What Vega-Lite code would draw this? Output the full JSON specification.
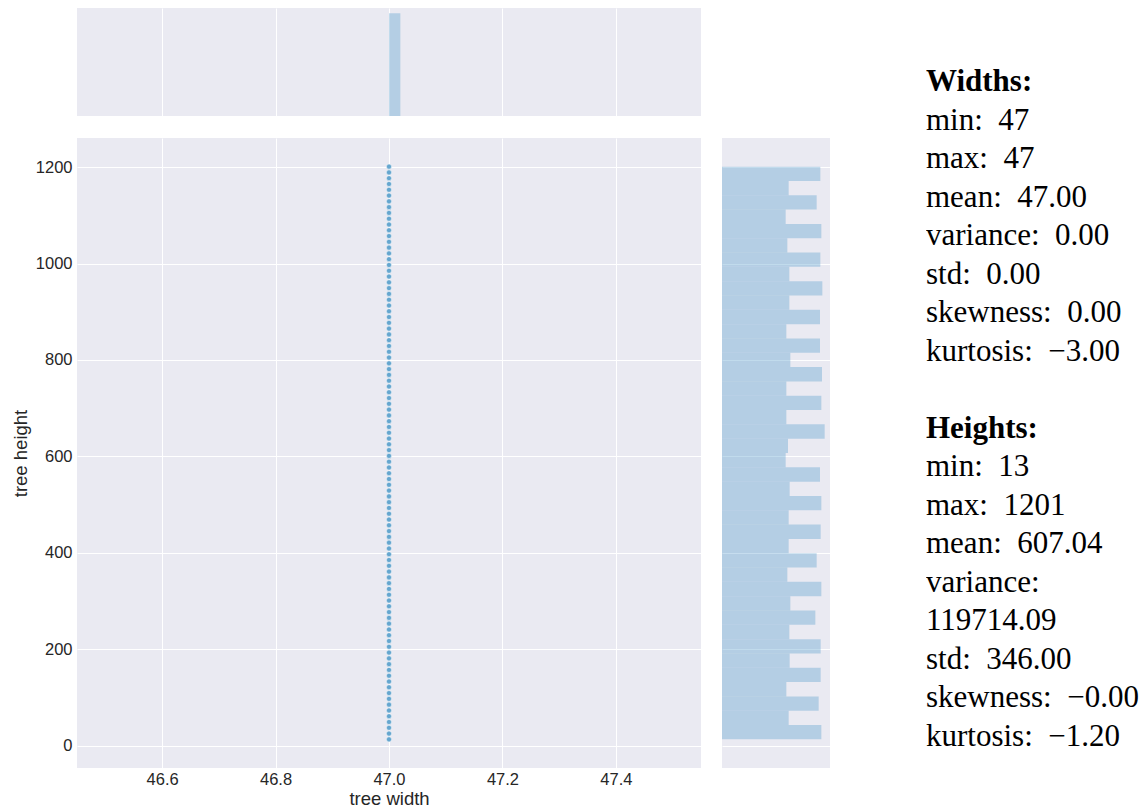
{
  "$schema": "https://vega.github.io/schema/vega-lite/v6.json",
  "padding": {"left": 11, "top": 8, "right": 0, "bottom": 0},
  "autosize": {"type": "pad"},
  "background": "white",
  "datasets": {
    "points": [
      {"width": 47, "height": 13}, {"width": 47, "height": 25}, {"width": 47, "height": 37}, {"width": 47, "height": 49}, {"width": 47, "height": 61},
      {"width": 47, "height": 73}, {"width": 47, "height": 85}, {"width": 47, "height": 97}, {"width": 47, "height": 109}, {"width": 47, "height": 121},
      {"width": 47, "height": 133}, {"width": 47, "height": 145}, {"width": 47, "height": 157}, {"width": 47, "height": 169}, {"width": 47, "height": 181},
      {"width": 47, "height": 193}, {"width": 47, "height": 205}, {"width": 47, "height": 217}, {"width": 47, "height": 229}, {"width": 47, "height": 241},
      {"width": 47, "height": 253}, {"width": 47, "height": 265}, {"width": 47, "height": 277}, {"width": 47, "height": 289}, {"width": 47, "height": 301},
      {"width": 47, "height": 313}, {"width": 47, "height": 325}, {"width": 47, "height": 337}, {"width": 47, "height": 349}, {"width": 47, "height": 361},
      {"width": 47, "height": 373}, {"width": 47, "height": 385}, {"width": 47, "height": 397}, {"width": 47, "height": 409}, {"width": 47, "height": 421},
      {"width": 47, "height": 433}, {"width": 47, "height": 445}, {"width": 47, "height": 457}, {"width": 47, "height": 469}, {"width": 47, "height": 481},
      {"width": 47, "height": 493}, {"width": 47, "height": 505}, {"width": 47, "height": 517}, {"width": 47, "height": 529}, {"width": 47, "height": 541},
      {"width": 47, "height": 553}, {"width": 47, "height": 565}, {"width": 47, "height": 577}, {"width": 47, "height": 589}, {"width": 47, "height": 601},
      {"width": 47, "height": 613}, {"width": 47, "height": 625}, {"width": 47, "height": 637}, {"width": 47, "height": 649}, {"width": 47, "height": 661},
      {"width": 47, "height": 673}, {"width": 47, "height": 685}, {"width": 47, "height": 697}, {"width": 47, "height": 709}, {"width": 47, "height": 721},
      {"width": 47, "height": 733}, {"width": 47, "height": 745}, {"width": 47, "height": 757}, {"width": 47, "height": 769}, {"width": 47, "height": 781},
      {"width": 47, "height": 793}, {"width": 47, "height": 805}, {"width": 47, "height": 817}, {"width": 47, "height": 829}, {"width": 47, "height": 841},
      {"width": 47, "height": 853}, {"width": 47, "height": 865}, {"width": 47, "height": 877}, {"width": 47, "height": 889}, {"width": 47, "height": 901},
      {"width": 47, "height": 913}, {"width": 47, "height": 925}, {"width": 47, "height": 937}, {"width": 47, "height": 949}, {"width": 47, "height": 961},
      {"width": 47, "height": 973}, {"width": 47, "height": 985}, {"width": 47, "height": 997}, {"width": 47, "height": 1009}, {"width": 47, "height": 1021},
      {"width": 47, "height": 1033}, {"width": 47, "height": 1045}, {"width": 47, "height": 1057}, {"width": 47, "height": 1069}, {"width": 47, "height": 1081},
      {"width": 47, "height": 1093}, {"width": 47, "height": 1105}, {"width": 47, "height": 1117}, {"width": 47, "height": 1129}, {"width": 47, "height": 1141},
      {"width": 47, "height": 1153}, {"width": 47, "height": 1165}, {"width": 47, "height": 1177}, {"width": 47, "height": 1189}, {"width": 47, "height": 1201}
    ],
    "widthHist": [
      {"x0": 47.0, "x1": 47.02, "count": 100}
    ],
    "heightHist": [
      {"y0": 13.0, "y1": 42.7, "count": 2.98},
      {"y0": 42.7, "y1": 72.4, "count": 2.00},
      {"y0": 72.4, "y1": 102.1, "count": 2.90},
      {"y0": 102.1, "y1": 131.8, "count": 1.93},
      {"y0": 131.8, "y1": 161.5, "count": 2.96},
      {"y0": 161.5, "y1": 191.2, "count": 2.03},
      {"y0": 191.2, "y1": 220.9, "count": 2.96},
      {"y0": 220.9, "y1": 250.6, "count": 2.02},
      {"y0": 250.6, "y1": 280.3, "count": 2.80},
      {"y0": 280.3, "y1": 310.0, "count": 2.05},
      {"y0": 310.0, "y1": 339.7, "count": 2.98},
      {"y0": 339.7, "y1": 369.4, "count": 1.96},
      {"y0": 369.4, "y1": 399.1, "count": 2.84},
      {"y0": 399.1, "y1": 428.8, "count": 2.00},
      {"y0": 428.8, "y1": 458.5, "count": 2.96},
      {"y0": 458.5, "y1": 488.2, "count": 2.00},
      {"y0": 488.2, "y1": 517.9, "count": 2.98},
      {"y0": 517.9, "y1": 547.6, "count": 2.03},
      {"y0": 547.6, "y1": 577.3, "count": 2.94},
      {"y0": 577.3, "y1": 607.0, "count": 1.91},
      {"y0": 607.0, "y1": 636.7, "count": 1.98},
      {"y0": 636.7, "y1": 666.4, "count": 3.08},
      {"y0": 666.4, "y1": 696.1, "count": 1.93},
      {"y0": 696.1, "y1": 725.8, "count": 2.98},
      {"y0": 725.8, "y1": 755.5, "count": 1.93},
      {"y0": 755.5, "y1": 785.2, "count": 3.00},
      {"y0": 785.2, "y1": 814.9, "count": 2.05},
      {"y0": 814.9, "y1": 844.6, "count": 2.94},
      {"y0": 844.6, "y1": 874.3, "count": 1.93},
      {"y0": 874.3, "y1": 904.0, "count": 2.94},
      {"y0": 904.0, "y1": 933.7, "count": 2.02},
      {"y0": 933.7, "y1": 963.4, "count": 3.01},
      {"y0": 963.4, "y1": 993.1, "count": 2.02},
      {"y0": 993.1, "y1": 1022.8, "count": 2.95},
      {"y0": 1022.8, "y1": 1052.5, "count": 1.96},
      {"y0": 1052.5, "y1": 1082.2, "count": 2.98},
      {"y0": 1082.2, "y1": 1111.9, "count": 1.91},
      {"y0": 1111.9, "y1": 1141.6, "count": 2.84},
      {"y0": 1141.6, "y1": 1171.3, "count": 2.00},
      {"y0": 1171.3, "y1": 1201.0, "count": 2.95}
    ],
    "stats": [
      {"line": 0, "label": "Widths:", "bold": true},
      {"line": 1, "label": "min: \u00a047", "bold": false},
      {"line": 2, "label": "max: \u00a047", "bold": false},
      {"line": 3, "label": "mean: \u00a047.00", "bold": false},
      {"line": 4, "label": "variance: \u00a00.00", "bold": false},
      {"line": 5, "label": "std: \u00a00.00", "bold": false},
      {"line": 6, "label": "skewness: \u00a00.00", "bold": false},
      {"line": 7, "label": "kurtosis: \u00a0\u22123.00", "bold": false},
      {"line": 9, "label": "Heights:", "bold": true},
      {"line": 10, "label": "min: \u00a013", "bold": false},
      {"line": 11, "label": "max: \u00a01201", "bold": false},
      {"line": 12, "label": "mean: \u00a0607.04", "bold": false},
      {"line": 13, "label": "variance:", "bold": false},
      {"line": 14, "label": "119714.09", "bold": false},
      {"line": 15, "label": "std: \u00a0346.00", "bold": false},
      {"line": 16, "label": "skewness: \u00a0\u22120.00", "bold": false},
      {"line": 17, "label": "kurtosis: \u00a0\u22121.20", "bold": false}
    ]
  },
  "hconcat": [
    {
      "concat": [
        {
          "width": 624,
          "height": 108,
          "data": {"name": "widthHist"},
          "mark": {"type": "rect", "color": "#65A6CF", "opacity": 0.4},
          "encoding": {
            "x": {"field": "x0", "type": "quantitative", "scale": {"domain": [46.45, 47.55], "nice": false, "zero": false},
                  "axis": {"values": [46.6, 46.8, 47.0, 47.2, 47.4], "labels": false, "title": null, "grid": true}},
            "x2": {"field": "x1"},
            "y": {"field": "count", "type": "quantitative", "scale": {"domain": [0, 105], "nice": false}, "axis": null},
            "y2": {"datum": 0}
          }
        },
        {
          "width": 108,
          "height": 108,
          "data": {"values": []},
          "mark": "point",
          "view": {"fill": null, "stroke": null}
        },
        {
          "width": 624,
          "height": 630,
          "data": {"name": "points"},
          "mark": {"type": "point", "filled": true, "fill": "#65A6CF", "opacity": 1, "size": 26, "stroke": "white", "strokeWidth": 0.5},
          "encoding": {
            "x": {"field": "width", "type": "quantitative", "scale": {"domain": [46.45, 47.55], "nice": false, "zero": false},
                  "axis": {"values": [46.6, 46.8, 47.0, 47.2, 47.4], "format": ".1f", "title": "tree width", "grid": true, "labelPadding": 3, "titlePadding": 2}},
            "y": {"field": "height", "type": "quantitative", "scale": {"domain": [-46.4, 1260.4], "nice": false, "zero": false},
                  "axis": {"values": [0, 200, 400, 600, 800, 1000, 1200], "format": "d", "title": "tree height", "grid": true}}
          }
        },
        {
          "width": 108,
          "height": 630,
          "data": {"name": "heightHist"},
          "mark": {"type": "rect", "color": "#65A6CF", "opacity": 0.4},
          "encoding": {
            "y": {"field": "y0", "type": "quantitative", "scale": {"domain": [-46.4, 1260.4], "nice": false, "zero": false},
                  "axis": {"values": [0, 200, 400, 600, 800, 1000, 1200], "labels": false, "title": null, "grid": true}},
            "y2": {"field": "y1"},
            "x": {"field": "count", "type": "quantitative", "scale": {"domain": [0, 3.24], "nice": false}, "axis": null},
            "x2": {"datum": 0}
          }
        }
      ],
      "columns": 2,
      "spacing": {"row": 22, "column": 21},
      "bounds": "flush"
    },
    {
      "width": 216,
      "height": 760,
      "view": {"fill": null, "stroke": null},
      "data": {"name": "stats"},
      "encoding": {
        "x": {"value": 0},
        "y": {"field": "line", "type": "quantitative", "scale": {"domain": [-2.156, 17.584], "reverse": true, "nice": false, "zero": false}, "axis": null},
        "text": {"field": "label"}
      },
      "layer": [
        {
          "transform": [{"filter": "datum.bold"}],
          "mark": {"type": "text", "align": "left", "baseline": "alphabetic", "font": "Liberation Serif", "fontSize": 31, "fontWeight": "bold", "color": "black", "clip": true}
        },
        {
          "transform": [{"filter": "!datum.bold"}],
          "mark": {"type": "text", "align": "left", "baseline": "alphabetic", "font": "Liberation Serif", "fontSize": 31, "color": "black", "clip": true}
        }
      ]
    }
  ],
  "spacing": 96,
  "config": {
    "view": {"fill": "#EAEAF2", "stroke": null},
    "axis": {
      "domain": false,
      "ticks": false,
      "gridColor": "white",
      "gridWidth": 1,
      "gridOpacity": 1,
      "labelFont": "Liberation Sans",
      "labelFontSize": 16.5,
      "labelColor": "#262626",
      "labelPadding": 5,
      "titleFont": "Liberation Sans",
      "titleFontSize": 18.5,
      "titleFontWeight": "normal",
      "titleColor": "#262626",
      "titlePadding": 5
    }
  }
}
